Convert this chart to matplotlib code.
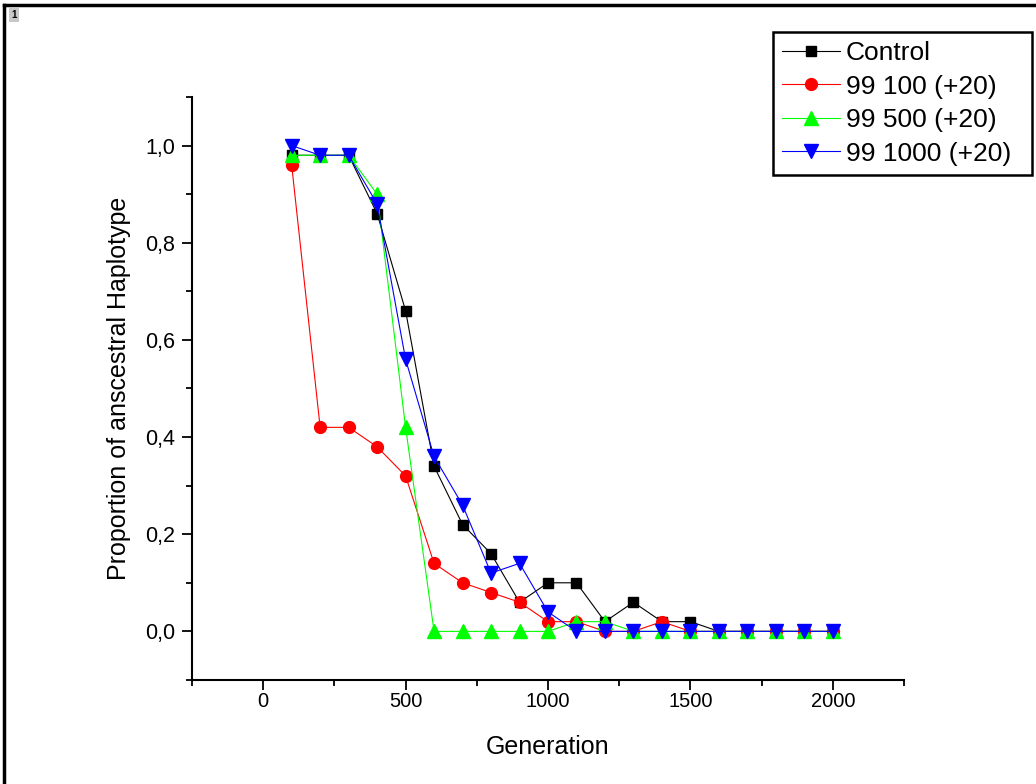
import matplotlib.pyplot as plt
from matplotlib.lines import Line2D
from matplotlib.ticker import MultipleLocator, FuncFormatter

plt.rcParams['font.family'] = ['Liberation Sans', 'DejaVu Sans']

# Datos
generation = [100, 200, 300, 400, 500, 600, 700, 800, 900, 1000,
              1100, 1200, 1300, 1400, 1500, 1600, 1700, 1800, 1900, 2000]
control = [0.98, 0.98, 0.98, 0.86, 0.66, 0.34, 0.22, 0.16, 0.06, 0.10,
           0.10, 0.02, 0.06, 0.02, 0.02, 0.0, 0.0, 0.0, 0.0, 0.0]
s99_100 = [0.96, 0.42, 0.42, 0.38, 0.32, 0.14, 0.10, 0.08, 0.06, 0.02,
           0.02, 0.0, 0.0, 0.02, 0.0, 0.0, 0.0, 0.0, 0.0, 0.0]
s99_500 = [0.98, 0.98, 0.98, 0.90, 0.42, 0.0, 0.0, 0.0, 0.0, 0.0,
           0.02, 0.02, 0.0, 0.0, 0.0, 0.0, 0.0, 0.0, 0.0, 0.0]
s99_1000 = [1.0, 0.98, 0.98, 0.88, 0.56, 0.36, 0.26, 0.12, 0.14, 0.04,
            0.0, 0.0, 0.0, 0.0, 0.0, 0.0, 0.0, 0.0, 0.0, 0.0]

labels = ['Control', '99 100 (+20)', '99 500 (+20)', '99 1000 (+20)']

fig = plt.figure(figsize=(10.36, 7.84), dpi=100)
ax = fig.add_axes([0.1853, 0.1327, 0.6873, 0.7436])

lw = 0.8
ax.plot(generation, control, color='black', marker='s', markersize=7.5,
        linewidth=lw, label=labels[0])
ax.plot(generation, s99_100, color='#ff0000', marker='o', markersize=8.5,
        linewidth=lw, label=labels[1])
ax.plot(generation, s99_500, color='#00ff00', marker='^', markersize=10,
        linewidth=lw, label=labels[2])
ax.plot(generation, s99_1000, color='#0000ff', marker='v', markersize=10,
        linewidth=lw, label=labels[3])

ax.set_xlim(-250, 2250)
ax.set_ylim(-0.1, 1.1)
ax.spines['top'].set_visible(False)
ax.spines['right'].set_visible(False)
ax.spines['left'].set_linewidth(1.5)
ax.spines['bottom'].set_linewidth(1.5)

ax.xaxis.set_major_locator(MultipleLocator(500))
ax.xaxis.set_minor_locator(MultipleLocator(250))
ax.yaxis.set_major_locator(MultipleLocator(0.2))
ax.yaxis.set_minor_locator(MultipleLocator(0.1))
ax.yaxis.set_major_formatter(FuncFormatter(lambda v, p: f'{v:.1f}'.replace('.', ',')))
ax.tick_params(which='major', direction='out', length=7, width=1.3)
ax.tick_params(which='minor', direction='out', length=4, width=1.3)
ax.tick_params(axis='x', which='major', labelsize=14.5, pad=2)
ax.tick_params(axis='y', which='major', labelsize=15.5, pad=5)

ax.set_xlabel('Generation', fontsize=18, labelpad=17)
ax.set_ylabel('Proportion of anscestral Haplotype', fontsize=18, labelpad=10)

# Leyenda en la esquina superior derecha de la figura
leg = fig.legend(loc='upper left',
                 bbox_to_anchor=(773 / 1036, 1 - 176 / 784, 259 / 1036, 144 / 784),
                 mode='expand', fontsize=19, numpoints=1, handlelength=2.2,
                 fancybox=False, framealpha=1, edgecolor='black', borderpad=0.35,
                 labelspacing=0.36, handletextpad=0.2, borderaxespad=0)
leg.get_frame().set_linewidth(1.8)

# Marco de la figura (izquierda y arriba)
fig.add_artist(Line2D([4 / 1036, 4 / 1036], [0, 1 - 5 / 784], color='black',
                      linewidth=2.5, transform=fig.transFigure))
fig.add_artist(Line2D([4 / 1036, 1], [1 - 5 / 784, 1 - 5 / 784], color='black',
                      linewidth=2.5, transform=fig.transFigure))
fig.text(14 / 1036, 1 - 15 / 784, '1', fontsize=7, fontweight='bold', ha='center',
         va='center', bbox=dict(boxstyle='square,pad=0.25', facecolor='#c8c8c8',
                                edgecolor='none'))

fig.savefig('out.png', dpi=100)
